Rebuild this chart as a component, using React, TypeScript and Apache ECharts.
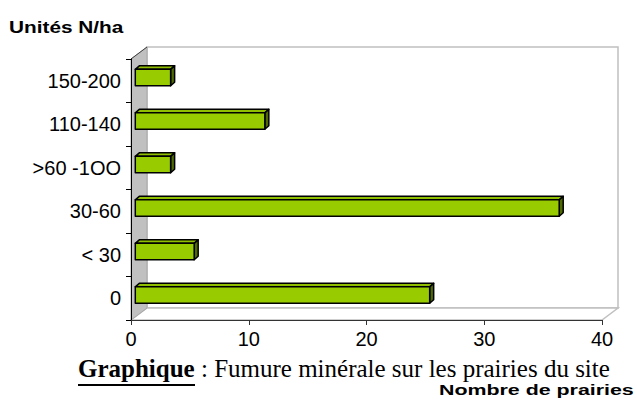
import React, { useEffect, useRef } from "react";
import * as echarts from "echarts";

const categories = ["0", "< 30", "30-60", ">60 -1OO", "110-140", "150-200"];
const prairies = [25, 5, 36, 3, 11, 3];
const xMin = 0;
const xMax = 40;
const xStep = 10;
const yTitle = "Unités N/ha";
const xTitle = "Nombre de prairies";
const captionBold = "Graphique";
const captionRest = " : Fumure minérale sur les prairies du site";

const DX = 16;
const DY = -12;
const BX = 4.3;
const BY = -3.2;
const BDX = 4;
const BDY = -3.5;

function renderWalls(params: any) {
  const cs = params.coordSys;
  const L = cs.x;
  const T = cs.y;
  const R = cs.x + cs.width;
  const B = cs.y + cs.height;
  return {
    type: "group",
    children: [
      {
        type: "rect",
        shape: { x: L + DX, y: T + DY, width: R - L, height: B - T },
        style: { fill: "#ffffff", stroke: "#c0c0c0", lineWidth: 1.5 },
      },
      {
        type: "polygon",
        shape: { points: [[L, B], [L + DX, B + DY], [R + DX, B + DY], [R, B]] },
        style: { fill: "#ffffff", stroke: "#c0c0c0", lineWidth: 1.5 },
      },
      {
        type: "polygon",
        shape: { points: [[L, B], [L + DX, B + DY], [L + DX, T + DY], [L, T]] },
        style: { fill: "#c0c0c0", stroke: "#a8a8a8", lineWidth: 1 },
      },
      {
        type: "line",
        shape: { x1: L, y1: T, x2: L + DX, y2: T + DY },
        style: { stroke: "#404040", lineWidth: 1 },
      },
    ],
  };
}

function renderBar(params: any, api: any) {
  const v = api.value(0);
  const i = api.value(1);
  const p0 = api.coord([0, i]);
  const p1 = api.coord([v, i]);
  const band = api.size([0, 1])[1];
  const h = band * 0.377;
  const x0 = p0[0] + BX;
  const x1 = p1[0] + BX;
  const yt = p0[1] + BY - h / 2;
  const yb = yt + h;
  const edge = { stroke: "#000000", lineWidth: 1.5, lineJoin: "round" };
  return {
    type: "group",
    children: [
      {
        type: "polygon",
        shape: { points: [[x0, yt], [x0 + BDX, yt + BDY], [x1 + BDX, yt + BDY], [x1, yt]] },
        style: { fill: "#8fbf00", ...edge },
      },
      {
        type: "polygon",
        shape: { points: [[x1, yt], [x1 + BDX, yt + BDY], [x1 + BDX, yb + BDY], [x1, yb]] },
        style: { fill: "#4f6a00", ...edge },
      },
      {
        type: "rect",
        shape: { x: x0, y: yt, width: x1 - x0, height: h },
        style: { fill: "#99cc00", ...edge },
      },
    ],
  };
}

export default function App() {
  const ref = useRef<HTMLDivElement>(null);
  useEffect(() => {
    const chart = echarts.init(ref.current!, null, { renderer: "svg" });
    chart.setOption({
      animation: false,
      grid: { left: 131, right: 35, top: 59, bottom: 80 },
      xAxis: {
        type: "value",
        min: xMin,
        max: xMax,
        interval: xStep,
        z: 5,
        axisLine: { show: true, lineStyle: { color: "#333333", width: 1 } },
        axisTick: { show: true, length: 5, lineStyle: { color: "#333333" } },
        splitLine: { show: false },
        axisLabel: { color: "#000", fontSize: 20, fontFamily: "Liberation Sans", margin: 9 },
      },
      yAxis: {
        type: "category",
        data: categories,
        z: 5,
        axisLine: { show: true, lineStyle: { color: "#000000", width: 1 } },
        axisTick: { show: true, length: 5, lineStyle: { color: "#000000" } },
        axisLabel: { color: "#000", fontSize: 20, fontFamily: "Liberation Sans", margin: 10 },
      },
      series: [
        {
          type: "custom",
          renderItem: renderWalls,
          data: [[0, 0]],
          encode: { x: 0, y: 1 },
          z: 1,
          silent: true,
        },
        {
          type: "custom",
          renderItem: renderBar,
          data: prairies.map((v, i) => [v, i]),
          encode: { x: 0, y: 1 },
          z: 3,
        },
      ],
      graphic: [
        {
          type: "text",
          x: 9,
          y: 27,
          scaleX: 1.3,
          style: {
            text: yTitle,
            x: 0,
            y: 0,
            fill: "#000",
            fontSize: 16,
            fontWeight: "bold",
            fontFamily: "Liberation Sans",
            align: "left",
            verticalAlign: "middle",
          },
        },
        {
          type: "text",
          x: 439,
          y: 390,
          scaleX: 1.38,
          z: 10,
          style: {
            text: xTitle,
            x: 0,
            y: 0,
            fill: "#000",
            fontSize: 15.5,
            fontWeight: "bold",
            fontFamily: "Liberation Sans",
            align: "left",
            verticalAlign: "middle",
          },
        },
        {
          type: "text",
          x: 78,
          y: 368,
          style: {
            text: "{b|" + captionBold + "}{n|" + captionRest + "}",
            x: 0,
            y: 0,
            fill: "#000",
            fontSize: 25,
            fontFamily: "Liberation Serif",
            align: "left",
            verticalAlign: "middle",
            rich: {
              b: { fontSize: 25, fontWeight: "bold", fontFamily: "Liberation Serif", fill: "#000" },
              n: { fontSize: 25, fontFamily: "Liberation Serif", fill: "#000" },
            },
          },
        },
        {
          type: "line",
          shape: { x1: 78, y1: 385, x2: 195, y2: 385 },
          style: { stroke: "#000", lineWidth: 2 },
        },
      ],
    });
    return () => chart.dispose();
  }, []);
  return (
    <div
      ref={ref}
      style={{ position: "fixed", left: 0, top: 0, width: 637, height: 400, background: "#fff" }}
    />
  );
}
